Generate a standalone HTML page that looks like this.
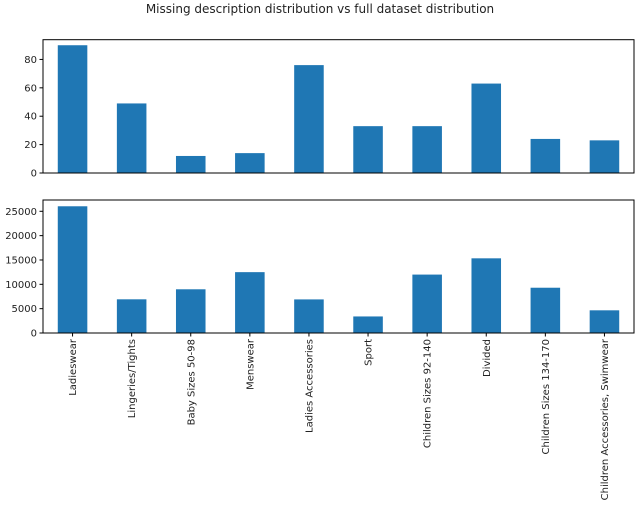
<!DOCTYPE html>
<html><head><meta charset="utf-8"><style>
body{margin:0;background:#fff}
svg{font-family:"DejaVu Sans","Liberation Sans",sans-serif}
</style></head><body>
<svg id="c" width="640" height="511"></svg>
<script>
const categories=["Ladieswear","Lingeries/Tights","Baby Sizes 50-98","Menswear","Ladies Accessories","Sport","Children Sizes 92-140","Divided","Children Sizes 134-170","Children Accessories, Swimwear"];
const missingValues=[90,49,12,14,76,33,33,63,24,23];
const fullValues=[26030,6920,8980,12500,6900,3400,12000,15340,9300,4660];
const topTicks=[0,20,40,60,80];
const bottomTicks=[0,5000,10000,15000,20000,25000];
const NS="http://www.w3.org/2000/svg";
const svg=document.getElementById('c');
function mk(t,a,p){const e=document.createElementNS(NS,t);for(const k in a)e.setAttribute(k,a[k]);(p||svg).appendChild(e);return e;}
const L=43,R=634,step=(R-L)/categories.length;
const xc=i=>L+step*(i+0.5);
const t=mk('text',{x:320,y:13,'text-anchor':'middle','font-size':12,fill:'#222'});


t.textContent="Missing description distribution vs full dataset distribution";
function panel(name,top,bot,ymax,vals,ticks,showX){
  const g=mk('g',{});
  
  
  const y=v=>bot-(bot-top)*v/ymax;
  vals.forEach((v,i)=>{
    const r=mk('rect',{x:xc(i)-step/4,y:y(v),width:step/2,height:bot-y(v),fill:'#1f77b4'},g);
    
    
  });
  mk('rect',{x:L,y:top,width:R-L,height:bot-top,fill:'none',stroke:'#000','stroke-width':1},g);
  ticks.forEach(v=>{
    mk('line',{x1:L-3.5,x2:L,y1:y(v),y2:y(v),stroke:'#000'},g);
    const tx=mk('text',{x:L-6,y:y(v)+3.5,'text-anchor':'end','font-size':10,fill:'#222'},g);
    
    
    tx.textContent=v;
  });
  if(showX){
    categories.forEach((c,i)=>{
      mk('line',{x1:xc(i),x2:xc(i),y1:bot,y2:bot+3.5,stroke:'#000'},g);
      const tx=mk('text',{x:0,y:0,'text-anchor':'end','font-size':10,fill:'#222',transform:`translate(${xc(i)+3.5},${bot+6}) rotate(-90)`},g);
      
      
      tx.textContent=c;
    });
  }
}
panel('top-axes',39.7,173,93.9,missingValues,topTicks,false);
panel('bottom-axes',200,333,27320,fullValues,bottomTicks,true);
</script>
</body></html>
